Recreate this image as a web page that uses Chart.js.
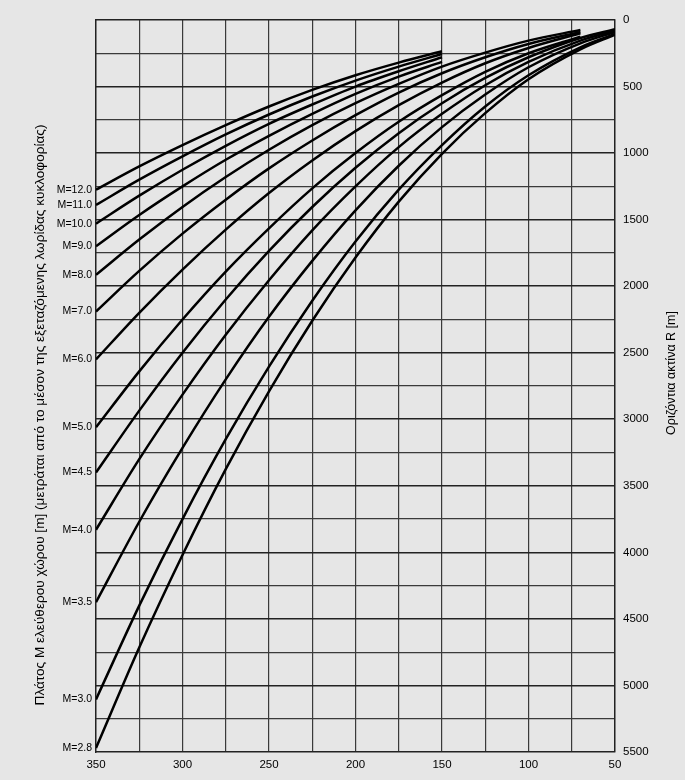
<!DOCTYPE html>
<html lang="el">
<head>
<meta charset="utf-8">
<title>Πλάτος Μ ελεύθερου χώρου - Οριζόντια ακτίνα R</title>
<script src="https://cdn.jsdelivr.net/npm/chart.js@4"></script>
<style>
  body { margin: 0; background: #e6e6e6; }
  canvas { display: block; }
</style>
</head>
<body>
<canvas id="sightChart" width="685" height="780"></canvas>
<script>
// Μήκος ορατότητας (άξονας x) στα σημεία που διαβάστηκαν
const distances = [350, 325, 300, 275, 250, 225, 200, 175, 150, 125, 100, 70, 50];

// Ετικέτες καμπυλών
const curveLabels = ['M=12.0', 'M=11.0', 'M=10.0', 'M=9.0', 'M=8.0', 'M=7.0', 'M=6.0',
  'M=5.0', 'M=4.5', 'M=4.0', 'M=3.5', 'M=3.0', 'M=2.8'];

// Ακτίνα R [m] για κάθε καμπύλη, με τη σειρά των distances
const m120 = [1275, 1100, 940, 790, 650, 525, 415, 320, 235];
const m110 = [1390, 1200, 1025, 860, 710, 575, 455, 350, 255];
const m100 = [1530, 1320, 1125, 945, 780, 635, 500, 385, 280];
const m90 = [1700, 1465, 1250, 1050, 870, 705, 555, 425, 315];
const m80 = [1915, 1650, 1405, 1180, 975, 790, 625, 480, 350, 245, 155, 75];
const m70 = [2190, 1885, 1605, 1350, 1115, 905, 715, 545, 400, 280, 180, 90];
const m60 = [2550, 2200, 1875, 1575, 1300, 1055, 835, 640, 470, 325, 210, 100];
const m50 = [3060, 2640, 2250, 1890, 1565, 1265, 1000, 765, 565, 390, 250, 125];
const m45 = [3400, 2935, 2500, 2100, 1735, 1405, 1110, 850, 625, 435, 280, 135, 70];
const m40 = [3830, 3300, 2815, 2365, 1955, 1580, 1250, 955, 705, 490, 315, 155, 80];
const m35 = [4375, 3770, 3215, 2700, 2230, 1810, 1430, 1095, 805, 560, 355, 175, 90];
const m30 = [5105, 4400, 3750, 3150, 2605, 2110, 1665, 1275, 940, 650, 415, 205, 105];
const m28 = [5470, 4715, 4020, 3375, 2790, 2260, 1785, 1365, 1005, 700, 445, 220, 110];

const curves = [m120, m110, m100, m90, m80, m70, m60, m50, m45, m40, m35, m30, m28];

// Τίτλοι αξόνων
const leftTitle = 'Πλάτος Μ ελεύθερου χώρου [m] (μετράται από το μέσον της εξεταζόμενης λωρίδας κυκλοφορίας)';
const rightTitle = 'Οριζόντια ακτίνα R [m]';

const fontFamily = '"Liberation Sans", Arial, sans-serif';
const textColor = '#000';

// Κάθε καμπύλη γίνεται dataset με σημεία {x, y}
const datasets = curves.map((values, i) => ({
  label: curveLabels[i],
  data: values.map((r, j) => ({ x: distances[j], y: r })),
  borderColor: '#000',
  borderWidth: 2.5,
  pointRadius: 0,
  fill: false,
  cubicInterpolationMode: 'monotone',
  yAxisID: 'y'
}));

// Τίτλοι αξόνων σχεδιάζονται με το χέρι (και οι δύο διαβάζονται από κάτω προς τα πάνω)
const axisTitles = {
  id: 'axisTitles',
  afterDraw(chart) {
    const { ctx, chartArea } = chart;
    const midY = (chartArea.top + chartArea.bottom) / 2;
    ctx.save();
    ctx.fillStyle = textColor;
    ctx.textAlign = 'center';
    ctx.textBaseline = 'middle';

    ctx.save();
    ctx.font = '13.6px ' + fontFamily;
    ctx.translate(chartArea.left - 56, midY + 29);
    ctx.rotate(-Math.PI / 2);
    ctx.fillText(leftTitle, 0, 0);
    ctx.restore();

    ctx.save();
    ctx.font = '12.5px ' + fontFamily;
    ctx.translate(chartArea.right + 57, midY - 13);
    ctx.rotate(-Math.PI / 2);
    ctx.fillText(rightTitle, 0, 0);
    ctx.restore();

    ctx.restore();
  }
};

const ctx = document.getElementById('sightChart').getContext('2d');
window.sightChart = new Chart(ctx, {
  type: 'line',
  data: { datasets },
  options: {
    responsive: false,
    animation: false,
    layout: { padding: { top: 20, left: 0, right: 0, bottom: 0 } },
    plugins: {
      legend: { display: false },
      tooltip: { enabled: false }
    },
    scales: {
      x: {
        type: 'linear',
        reverse: true,
        min: 50,
        max: 350,
        afterFit(scale) { scale.height = 28; },
        ticks: {
          stepSize: 25,
          autoSkip: false,
          maxRotation: 0,
          padding: 6,
          color: textColor,
          font: { family: fontFamily, size: 11.5 },
          callback: v => (v % 50 === 0 ? v : '')
        },
        grid: { color: '#3a3a3a', lineWidth: 1.2, drawTicks: false },
        border: { display: false }
      },
      y: {
        type: 'linear',
        position: 'right',
        reverse: true,
        min: 0,
        max: 5500,
        afterFit(scale) { scale.width = 70; },
        ticks: {
          stepSize: 250,
          autoSkip: false,
          padding: 8,
          color: textColor,
          font: { family: fontFamily, size: 11.5 },
          callback: v => (v % 500 === 0 ? v : '')
        },
        grid: {
          drawTicks: false,
          color: c => (c.tick && c.tick.value % 500 === 0 ? '#222' : '#3a3a3a'),
          lineWidth: c => (c.tick && c.tick.value % 500 === 0 ? 1.6 : 1.3)
        },
        border: { display: true, color: '#222', width: 1.4 }
      },
      // Αριστερός άξονας: ετικέτες M στην αρχή κάθε καμπύλης (x = 350)
      yLabels: {
        type: 'linear',
        position: 'left',
        reverse: true,
        min: 0,
        max: 5500,
        afterFit(scale) { scale.width = 96; },
        afterBuildTicks(scale) {
          scale.ticks = curves.map(values => ({ value: values[0] }));
        },
        ticks: {
          autoSkip: false,
          padding: 4,
          color: textColor,
          font: { family: fontFamily, size: 10.5 },
          callback: (v, i) => curveLabels[i]
        },
        grid: { display: false, drawTicks: false },
        border: { display: true, color: '#222', width: 1.4 }
      }
    }
  },
  plugins: [axisTitles]
});
</script>
</body>
</html>
